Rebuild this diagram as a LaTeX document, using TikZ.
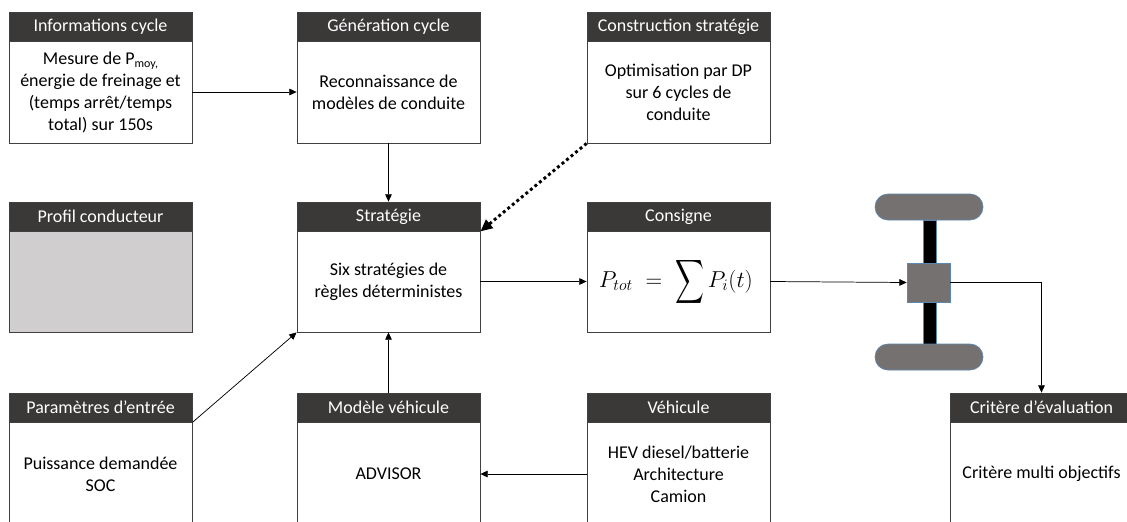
\documentclass[tikz,border=0pt]{standalone}
\usepackage{fontspec}
\setmainfont{Carlito}
\usetikzlibrary{arrows.meta}
\definecolor{hdfill}{HTML}{3B3838}
\definecolor{graybody}{HTML}{D0CECE}
\definecolor{wheelfill}{HTML}{767171}
\definecolor{wheeledge}{HTML}{5B86AE}
\definecolor{boxedge}{HTML}{404040}
\tikzset{
  hd/.style={draw=boxedge,fill=hdfill,text=white,minimum width=137.25pt,minimum height=21.75pt,inner sep=0pt,line width=.6pt,font=\fontsize{13.5}{16.5}\selectfont},
  bd/.style={draw=boxedge,fill=white,minimum width=137.25pt,inner sep=0pt,line width=.6pt,align=center,text=black,font=\fontsize{13.5}{16.5}\selectfont},
  conn/.style={draw=black,line width=.55pt,-{Triangle[length=5.5pt,width=5pt]}},
  dotconn/.style={draw=black,line width=2.2pt,dash pattern=on 2.2pt off 2.2pt,-{Triangle[length=9pt,width=8pt]}},
  wheel/.style={draw=wheeledge,fill=wheelfill,line width=.5pt,rounded corners=9.7pt,minimum width=81pt,minimum height=19.5pt,inner sep=0pt},
  axle/.style={draw=wheeledge,fill=black,line width=.3pt,minimum width=10pt,inner sep=0pt},
  hub/.style={draw=wheeledge,fill=wheelfill,line width=.5pt,minimum width=32.25pt,minimum height=29.25pt,inner sep=0pt}
}
% name, centre x, top y, bottom y, title, body
\newcommand{\panel}[7][]{%
  \node[hd] (#2h) at (#3,#4+14.5) {#6};
  \node[bd,minimum height={(#5-#4-29)*0.75pt},#1] (#2b) at (#3,{(#4+29+#5)/2}) {#7};
}
\begin{document}
\begin{tikzpicture}[x=0.75pt,y=-0.75pt]
\useasboundingbox (0,0) rectangle (1127,521);
\clip (0,0) rectangle (1127,521);
\panel{info}{100.5}{12}{143}{Informations cycle}{Mesure de P\raisebox{-.35ex}{\fontsize{9}{9}\selectfont moy,}\\énergie de freinage et\\(temps arrêt/temps\\total) sur 150s}
\panel{gen}{388.5}{12}{143}{Génération cycle}{Reconnaissance de\\modèles de conduite}
\panel{constr}{678.5}{12}{143}{Construction stratégie}{Optimisation par DP\\sur 6 cycles de\\conduite}
\panel[fill=graybody]{profil}{100.5}{202}{332}{Profil conducteur}{}
\panel{strat}{388.5}{202}{332}{Stratégie}{Six stratégies de\\règles déterministes}
\panel{cons}{678.5}{202}{332}{Consigne}{\hspace*{-4pt}\fontsize{18.5}{20}\selectfont$P_{tot}\;=\;\vcenter{\hbox{\scalebox{1.5}[2.3]{$\displaystyle\sum$}}}\,P_i(t)$}
\panel{param}{100.5}{393}{526}{Paramètres d’entrée}{Puissance demandée\\SOC}
\panel{modele}{388.5}{393}{526}{Modèle véhicule}{ADVISOR}
\panel{vehi}{678.5}{393}{526}{Véhicule}{HEV diesel/batterie\\Architecture\\Camion}
\panel{crit}{1041.5}{393}{526}{Critère d’évaluation}{Critère multi objectifs}
% vehicle
\node[axle,minimum height=93pt] (axleshape) at (929.5,282) {};
\node[wheel] (wheeltop) at (929,207) {};
\node[wheel] (wheelbot) at (929,357) {};
\node[hub] (hub) at (928.5,282.5) {};
% connectors
\draw[conn] (infob.east) -- (genb.west);
\draw[conn] (genb.south) -- (strath.north);
\draw[dotconn] (constrb.south west) -- (strath.south east);
\draw[conn] (stratb.east) -- (consb.west);
\draw[conn] (consb.east) -- (hub.west);
\draw[conn] (hub.east) -| (crith.north);
\draw[conn] (paramh.south east) -- (stratb.south west);
\draw[conn] (modeleh.north) -- (stratb.south);
\draw[conn] (vehib.west |- modeleb.east) -- (modeleb.east);
\end{tikzpicture}
\end{document}
